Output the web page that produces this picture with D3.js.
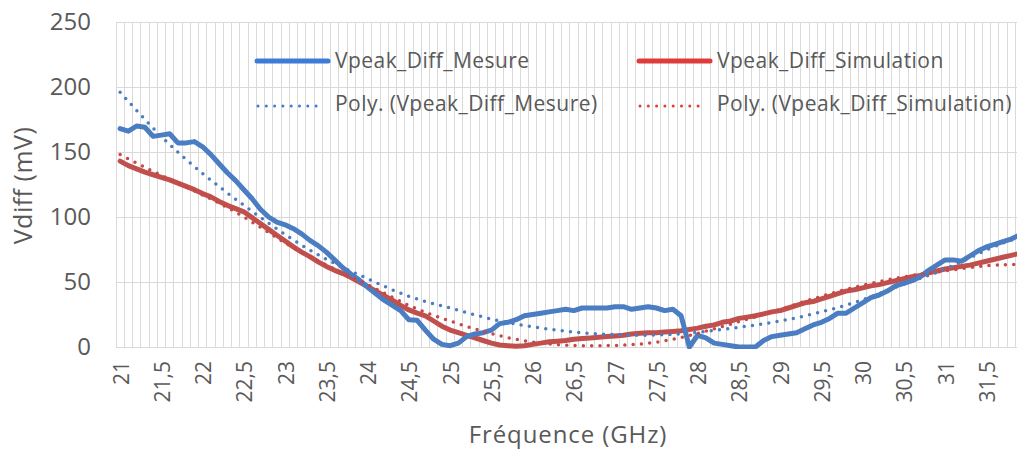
<!DOCTYPE html>
<html>
<head>
<meta charset="utf-8">
<script src="https://cdn.jsdelivr.net/npm/d3@7"></script>
<style>
  html, body { margin: 0; padding: 0; background: #ffffff; }
  svg { display: block; }
  text { font-family: "Open Sans", "Noto Sans", sans-serif; fill: #595959; }
</style>
</head>
<body>
<script>
// ---------- DATA ----------
const categories = [
  21.0,21.1,21.2,21.3,21.4,21.5,21.6,21.7,21.8,21.9,
  22.0,22.1,22.2,22.3,22.4,22.5,22.6,22.7,22.8,22.9,
  23.0,23.1,23.2,23.3,23.4,23.5,23.6,23.7,23.8,23.9,
  24.0,24.1,24.2,24.3,24.4,24.5,24.6,24.7,24.8,24.9,
  25.0,25.1,25.2,25.3,25.4,25.5,25.6,25.7,25.8,25.9,
  26.0,26.1,26.2,26.3,26.4,26.5,26.6,26.7,26.8,26.9,
  27.0,27.1,27.2,27.3,27.4,27.5,27.6,27.7,27.8,27.9,
  28.0,28.1,28.2,28.3,28.4,28.5,28.6,28.7,28.8,28.9,
  29.0,29.1,29.2,29.3,29.4,29.5,29.6,29.7,29.8,29.9,
  30.0,30.1,30.2,30.3,30.4,30.5,30.6,30.7,30.8,30.9,
  31.0,31.1,31.2,31.3,31.4,31.5,31.6,31.7,31.8,31.9
];

const mesure = [
  168,166,170,169,162,163,164,157,157,158,
  154,148,141,134,128,121,114,106,100,96,
  94,91,87,82,78,73,67,61,56,51.5,
  46,41,36,32,28,21,20.5,13,6,2,
  1,3,8,10,11,13,18,19,21,24,
  25,26,27,28,29,28,30,30,30,30,
  31,31,29,30,31,30,28,29,24,0,
  9,7,3,2,1,0,0,0,5,8,
  9,10,11,14,17,19,22,26,26,30,
  34,38,40,43,47,49,51,54,59,63,
  67,67,66,70,74,77,79,81,83,86
];

const simulation = [
  143,139.5,137,134.5,132.5,130.5,128.5,126,123.5,121,
  118,115.5,112,109,106.5,104,99.5,95,90.5,86,
  81.5,77,73,69.5,65.5,62,59,56.5,53.5,50,
  46.5,43,39.5,36,32,28.5,26,24,20,16,
  13,11,9,7,5,3,1.5,1,0.5,1,
  2,3,4,4.5,5,6,6.5,7,7.5,8,
  8.5,9,10,10.5,11,11,11.5,12,12.5,13.5,
  14.5,16,17,19,20,22,23,24,25.5,27,
  28,30,32,34,35,37,39,41,43,44,
  45.5,47,48,49.5,51,52.5,54,55,57,58.5,
  60,61,62,63,64.5,66,67.5,69,70.5,72
];

// trendline values read at every 0.5 GHz (and at the last category)
const trendFreqs = [21.0,21.5,22.0,22.5,23.0,23.5,24.0,24.5,25.0,25.5,26.0,26.5,27.0,27.5,28.0,28.5,29.0,29.5,30.0,30.5,31.0,31.5,31.9];
const trendMesure = [196,162,133.5,109,86.5,67.5,52.5,39,30,21.5,15.5,11.5,9.5,9.2,11.3,15.2,20,27,36.3,48.3,60,74.6,84.5];
const trendSimulation = [148,132,117,100,80,63,48,32,20,10.3,3.8,1.2,1.2,3.7,10.5,19.5,29,39,47.5,54,58.5,62.5,63.5];

const xTickLabels = ["21","21,5","22","22,5","23","23,5","24","24,5","25","25,5","26","26,5","27","27,5","28","28,5","29","29,5","30","30,5","31","31,5"];
const yTicks = [0,50,100,150,200,250];

const seriesNames = ["Vpeak_Diff_Mesure","Vpeak_Diff_Simulation","Poly. (Vpeak_Diff_Mesure)","Poly. (Vpeak_Diff_Simulation)"];

// ---------- LAYOUT ----------
const W = 1017, H = 449;
const colBlue = "#4a7dc2", colRed = "#c0504d";
const legBlue = "#3d7bd6", legRed = "#df3b3b";

const svg = d3.select("body").append("svg").attr("width", W).attr("height", H);

const catKeys = categories.map(d => d.toFixed(1));
const x = d3.scaleBand().domain(catKeys).range([116, 116 + 110 * 8.25]).padding(0);
const cx = k => x(k) + x.bandwidth() / 2;
const y = d3.scaleLinear().domain([0, 250]).range([347, 22]);

// gridlines
const grid = svg.append("g").attr("stroke", "#d9d9d9").attr("stroke-width", 1).attr("shape-rendering", "crispEdges");
grid.selectAll("line.v").data(catKeys.concat(["end"])).join("line")
  .attr("class", "v")
  .attr("x1", d => d === "end" ? x.range()[1] : x(d))
  .attr("x2", d => d === "end" ? x.range()[1] : x(d))
  .attr("y1", y(250)).attr("y2", y(0) + 1);
grid.selectAll("line.h").data(yTicks).join("line")
  .attr("class", "h")
  .attr("x1", x.range()[0]).attr("x2", x.range()[1])
  .attr("y1", d => y(d)).attr("y2", d => y(d));

// Y axis
const yAxis = svg.append("g").attr("transform", `translate(${x.range()[0]},0)`)
  .call(d3.axisLeft(y).tickValues(yTicks).tickSize(0).tickPadding(25).tickFormat(d3.format("d")));
yAxis.select(".domain").remove();
yAxis.selectAll("text").style("font-family", "'Open Sans', sans-serif").style("font-size", "24px").attr("fill", "#595959");

// X axis
const tickKeys = catKeys.filter((d, i) => i % 5 === 0);
const xAxis = svg.append("g").attr("transform", `translate(0,${y(0)})`)
  .call(d3.axisBottom(x).tickValues(tickKeys).tickSize(0).tickFormat((d, i) => xTickLabels[i]));
xAxis.select(".domain").remove();
xAxis.selectAll("text")
  .attr("transform", "rotate(-90)")
  .attr("x", -14).attr("y", 1).attr("dy", "0.36em")
  .attr("text-anchor", "end")
  .style("font-family", "'Open Sans', sans-serif").style("font-size", "21px").attr("fill", "#595959");

// axis titles
svg.append("text").attr("x", 568).attr("y", 443).attr("text-anchor", "middle")
  .style("font-size", "24px").style("letter-spacing", "0.9px").text("Fréquence (GHz)");
svg.append("text").attr("transform", "translate(32,185.5) rotate(-90)").attr("text-anchor", "middle")
  .style("font-size", "25px").style("letter-spacing", "0.5px").text("Vdiff (mV)");

// series
svg.append("defs").append("clipPath").attr("id", "plotclip")
  .append("rect").attr("x", 100).attr("y", 0).attr("width", 1000).attr("height", 349);

const plot = svg.append("g").attr("clip-path", "url(#plotclip)");

const lineGen = d3.line().x(d => cx(d.k)).y(d => y(d.v)).curve(d3.curveLinear);
const trendGen = d3.line().x(d => cx(d.k)).y(d => y(d.v)).curve(d3.curveNatural);

const mesData = catKeys.map((k, i) => ({ k, v: mesure[i] }));
const simData = catKeys.map((k, i) => ({ k, v: simulation[i] }));
const tMes = trendFreqs.map((f, i) => ({ k: f.toFixed(1), v: trendMesure[i] }));
const tSim = trendFreqs.map((f, i) => ({ k: f.toFixed(1), v: trendSimulation[i] }));

plot.append("path").datum(simData).attr("d", lineGen)
  .attr("fill", "none").attr("stroke", colRed).attr("stroke-width", 5)
  .attr("stroke-linejoin", "round").attr("stroke-linecap", "round");
plot.append("path").datum(mesData).attr("d", lineGen)
  .attr("fill", "none").attr("stroke", colBlue).attr("stroke-width", 5)
  .attr("stroke-linejoin", "round").attr("stroke-linecap", "round");
plot.append("path").datum(tMes).attr("d", trendGen)
  .attr("fill", "none").attr("stroke", colBlue).attr("stroke-width", 3.5)
  .attr("stroke-dasharray", "0 8.3").attr("stroke-linecap", "round");
plot.append("path").datum(tSim).attr("d", trendGen)
  .attr("fill", "none").attr("stroke", "#c94845").attr("stroke-width", 3.5)
  .attr("stroke-dasharray", "0 8.3").attr("stroke-linecap", "round");

// legend
const legendItems = [
  { name: seriesNames[0], color: legBlue, dotted: false, lx: 257, ly: 61, tx: 335, ty: 68 },
  { name: seriesNames[1], color: legRed, dotted: false, lx: 639, ly: 61, tx: 717, ty: 68 },
  { name: seriesNames[2], color: legBlue, dotted: true, lx: 257, ly: 106, tx: 335, ty: 110.5 },
  { name: seriesNames[3], color: legRed, dotted: true, lx: 639, ly: 106, tx: 717, ty: 110.5 }
];
const leg = svg.append("g");
legendItems.forEach(it => {
  if (it.dotted) {
    leg.append("line").attr("x1", it.lx + 1).attr("x2", it.lx + 66).attr("y1", it.ly).attr("y2", it.ly)
      .attr("stroke", it.color).attr("stroke-width", 3).attr("stroke-dasharray", "0 8.3").attr("stroke-linecap", "round");
  } else {
    leg.append("line").attr("x1", it.lx).attr("x2", it.lx + 71).attr("y1", it.ly).attr("y2", it.ly)
      .attr("stroke", it.color).attr("stroke-width", 5).attr("stroke-linecap", "round");
  }
  leg.append("text").attr("x", it.tx).attr("y", it.ty)
    .style("font-size", "21px").style("letter-spacing", "0.45px").text(it.name);
});
</script>
</body>
</html>
